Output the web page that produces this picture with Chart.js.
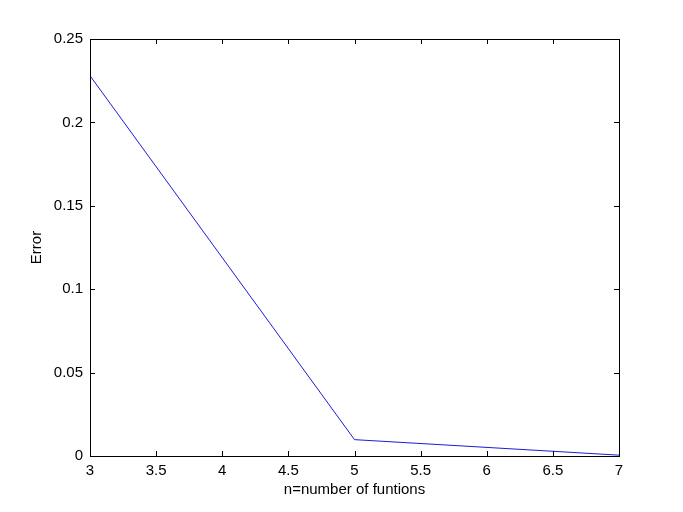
<!DOCTYPE html>
<html>
<head>
<meta charset="utf-8">
<script src="https://cdn.jsdelivr.net/npm/chart.js@4"></script>
<style>
  html, body { margin: 0; padding: 0; background: #fff; }
  #wrap { width: 683px; height: 512px; }
</style>
</head>
<body>
<div id="wrap"><canvas id="c" width="683" height="512"></canvas></div>
<script>
const nValues = [3, 5, 7];
const errorValues = [0.228, 0.0098, 0.0005];
const xTickLabels = ['3', '3.5', '4', '4.5', '5', '5.5', '6', '6.5', '7'];
const yTickLabels = ['0', '0.05', '0.1', '0.15', '0.2', '0.25'];

const FONT = "'Liberation Sans', Arial, sans-serif";

// matlab style box with inward ticks on all four sides
const boxTicks = {
  id: 'boxTicks',
  afterDraw(chart) {
    const { ctx, chartArea: { left, top, right, bottom }, scales: { x, y } } = chart;
    const len = 5;
    ctx.save();
    ctx.strokeStyle = '#000';
    ctx.lineWidth = 1;
    ctx.beginPath();
    x.ticks.forEach(t => {
      const px = Math.round(x.getPixelForValue(t.value)) + 0.5;
      ctx.moveTo(px, bottom); ctx.lineTo(px, bottom - len);
      ctx.moveTo(px, top); ctx.lineTo(px, top + len);
    });
    y.ticks.forEach(t => {
      const py = Math.round(y.getPixelForValue(t.value)) + 0.5;
      ctx.moveTo(left, py); ctx.lineTo(left + len, py);
      ctx.moveTo(right, py); ctx.lineTo(right - len, py);
    });
    ctx.stroke();
    ctx.strokeRect(Math.round(left) + 0.5, Math.round(top) + 0.5,
      Math.round(right - left), Math.round(bottom - top));
    ctx.restore();
  },
};

new Chart(document.getElementById('c').getContext('2d'), {
  type: 'line',
  plugins: [boxTicks],
  data: {
    datasets: [{
      data: nValues.map((n, i) => ({ x: n, y: errorValues[i] })),
      borderColor: '#1c1cd8',
      borderWidth: 1,
      pointRadius: 0,
      tension: 0,
      fill: false,
    }],
  },
  options: {
    responsive: false,
    animation: false,
    layout: { padding: { left: 0, top: 39, right: 64, bottom: 0 } },
    plugins: { legend: { display: false }, tooltip: { enabled: false } },
    scales: {
      x: {
        type: 'linear',
        min: 3, max: 7,
        grid: { display: false, drawTicks: false },
        border: { display: false },
        afterFit(s) { s.height = 56; },
        afterBuildTicks(s) { s.ticks = xTickLabels.map(v => ({ value: parseFloat(v) })); },
        ticks: {
          padding: 6,
          color: '#000',
          font: { family: FONT, size: 15 },
          callback: (v) => xTickLabels.find(l => parseFloat(l) === v) ?? '',
          maxRotation: 0,
          autoSkip: false,
        },
        title: {
          display: true,
          text: 'n=number of funtions',
          color: '#000',
          font: { family: FONT, size: 15 },
          padding: { top: 0, bottom: 13 },
        },
      },
      y: {
        min: 0, max: 0.25,
        grid: { display: false, drawTicks: false },
        border: { display: false },
        afterFit(s) { s.width = 90; },
        afterBuildTicks(s) { s.ticks = yTickLabels.map(v => ({ value: parseFloat(v) })); },
        ticks: {
          padding: 7,
          color: '#000',
          font: { family: FONT, size: 15 },
          callback: (v) => yTickLabels.find(l => parseFloat(l) === v) ?? '',
          autoSkip: false,
        },
        title: {
          display: true,
          text: 'Error',
          color: '#000',
          font: { family: FONT, size: 15 },
          padding: { top: 28, bottom: 0 },
        },
      },
    },
  },
});
</script>
</body>
</html>
